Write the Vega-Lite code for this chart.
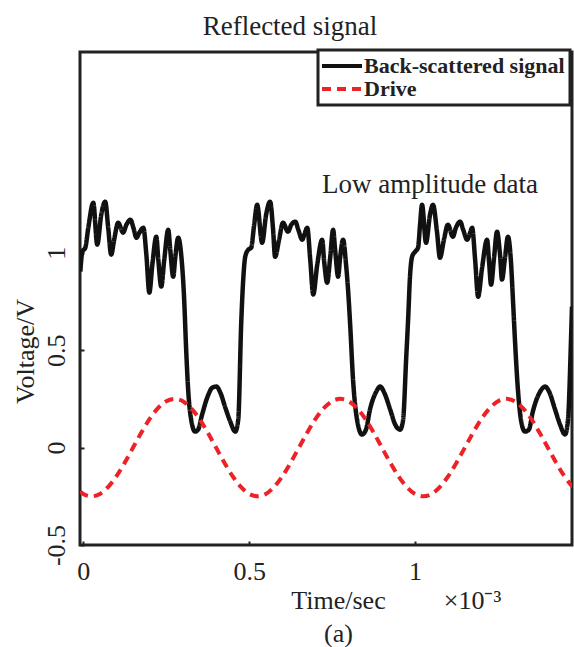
{
  "$schema": "https://vega.github.io/schema/vega-lite/v6.json",
  "autosize": "none",
  "width": 492,
  "height": 493,
  "padding": {"left": 80, "top": 52, "right": 2, "bottom": 102},
  "background": "white",
  "title": {"text": "Reflected signal", "font": "Liberation Serif", "fontSize": 27, "fontWeight": "normal", "color": "#222", "anchor": "middle", "dx": -36, "offset": 8},
  "config": {
    "view": {"stroke": "#222", "strokeWidth": 3},
    "font": "Liberation Serif",
    "axis": {"labelFont": "Liberation Serif", "titleFont": "Liberation Serif", "labelColor": "#222", "titleColor": "#222", "labelFontSize": 26, "titleFontSize": 26, "titleFontWeight": "normal", "domain": false, "grid": false, "tickColor": "#222", "tickWidth": 2}
  },
  "datasets": {
    "signal": [
      {"series": "Back-scattered signal", "t": -0.009, "v": 0.903},
      {"series": "Back-scattered signal", "t": -0.003, "v": 1.005},
      {"series": "Back-scattered signal", "t": 0.006, "v": 1.026},
      {"series": "Back-scattered signal", "t": 0.015, "v": 1.128},
      {"series": "Back-scattered signal", "t": 0.030, "v": 1.256},
      {"series": "Back-scattered signal", "t": 0.042, "v": 1.041},
      {"series": "Back-scattered signal", "t": 0.054, "v": 1.195},
      {"series": "Back-scattered signal", "t": 0.066, "v": 1.262},
      {"series": "Back-scattered signal", "t": 0.075, "v": 1.128},
      {"series": "Back-scattered signal", "t": 0.084, "v": 0.990},
      {"series": "Back-scattered signal", "t": 0.093, "v": 1.067},
      {"series": "Back-scattered signal", "t": 0.105, "v": 1.154},
      {"series": "Back-scattered signal", "t": 0.120, "v": 1.103},
      {"series": "Back-scattered signal", "t": 0.130, "v": 1.144},
      {"series": "Back-scattered signal", "t": 0.142, "v": 1.169},
      {"series": "Back-scattered signal", "t": 0.151, "v": 1.128},
      {"series": "Back-scattered signal", "t": 0.160, "v": 1.077},
      {"series": "Back-scattered signal", "t": 0.169, "v": 1.103},
      {"series": "Back-scattered signal", "t": 0.181, "v": 1.128},
      {"series": "Back-scattered signal", "t": 0.190, "v": 0.990},
      {"series": "Back-scattered signal", "t": 0.199, "v": 0.795},
      {"series": "Back-scattered signal", "t": 0.208, "v": 0.938},
      {"series": "Back-scattered signal", "t": 0.220, "v": 1.082},
      {"series": "Back-scattered signal", "t": 0.226, "v": 0.964},
      {"series": "Back-scattered signal", "t": 0.235, "v": 0.826},
      {"series": "Back-scattered signal", "t": 0.244, "v": 0.964},
      {"series": "Back-scattered signal", "t": 0.256, "v": 1.118},
      {"series": "Back-scattered signal", "t": 0.262, "v": 1.015},
      {"series": "Back-scattered signal", "t": 0.271, "v": 0.877},
      {"series": "Back-scattered signal", "t": 0.277, "v": 0.974},
      {"series": "Back-scattered signal", "t": 0.286, "v": 1.077},
      {"series": "Back-scattered signal", "t": 0.295, "v": 0.990},
      {"series": "Back-scattered signal", "t": 0.304, "v": 0.759},
      {"series": "Back-scattered signal", "t": 0.310, "v": 0.503},
      {"series": "Back-scattered signal", "t": 0.316, "v": 0.297},
      {"series": "Back-scattered signal", "t": 0.325, "v": 0.144},
      {"series": "Back-scattered signal", "t": 0.337, "v": 0.082},
      {"series": "Back-scattered signal", "t": 0.346, "v": 0.092},
      {"series": "Back-scattered signal", "t": 0.358, "v": 0.169},
      {"series": "Back-scattered signal", "t": 0.377, "v": 0.272},
      {"series": "Back-scattered signal", "t": 0.389, "v": 0.308},
      {"series": "Back-scattered signal", "t": 0.401, "v": 0.313},
      {"series": "Back-scattered signal", "t": 0.413, "v": 0.282},
      {"series": "Back-scattered signal", "t": 0.428, "v": 0.205},
      {"series": "Back-scattered signal", "t": 0.443, "v": 0.133},
      {"series": "Back-scattered signal", "t": 0.458, "v": 0.082},
      {"series": "Back-scattered signal", "t": 0.467, "v": 0.144},
      {"series": "Back-scattered signal", "t": 0.476, "v": 0.641},
      {"series": "Back-scattered signal", "t": 0.482, "v": 0.862},
      {"series": "Back-scattered signal", "t": 0.488, "v": 0.979},
      {"series": "Back-scattered signal", "t": 0.497, "v": 1.015},
      {"series": "Back-scattered signal", "t": 0.506, "v": 1.026},
      {"series": "Back-scattered signal", "t": 0.515, "v": 1.144},
      {"series": "Back-scattered signal", "t": 0.524, "v": 1.246},
      {"series": "Back-scattered signal", "t": 0.539, "v": 1.051},
      {"series": "Back-scattered signal", "t": 0.551, "v": 1.195},
      {"series": "Back-scattered signal", "t": 0.563, "v": 1.262},
      {"series": "Back-scattered signal", "t": 0.572, "v": 1.118},
      {"series": "Back-scattered signal", "t": 0.578, "v": 0.979},
      {"series": "Back-scattered signal", "t": 0.590, "v": 1.067},
      {"series": "Back-scattered signal", "t": 0.602, "v": 1.154},
      {"series": "Back-scattered signal", "t": 0.617, "v": 1.108},
      {"series": "Back-scattered signal", "t": 0.627, "v": 1.144},
      {"series": "Back-scattered signal", "t": 0.639, "v": 1.159},
      {"series": "Back-scattered signal", "t": 0.648, "v": 1.118},
      {"series": "Back-scattered signal", "t": 0.660, "v": 1.067},
      {"series": "Back-scattered signal", "t": 0.666, "v": 1.092},
      {"series": "Back-scattered signal", "t": 0.675, "v": 1.128},
      {"series": "Back-scattered signal", "t": 0.684, "v": 0.964},
      {"series": "Back-scattered signal", "t": 0.693, "v": 0.785},
      {"series": "Back-scattered signal", "t": 0.705, "v": 0.938},
      {"series": "Back-scattered signal", "t": 0.720, "v": 1.067},
      {"series": "Back-scattered signal", "t": 0.726, "v": 0.954},
      {"series": "Back-scattered signal", "t": 0.735, "v": 0.846},
      {"series": "Back-scattered signal", "t": 0.744, "v": 0.974},
      {"series": "Back-scattered signal", "t": 0.753, "v": 1.118},
      {"series": "Back-scattered signal", "t": 0.759, "v": 1.015},
      {"series": "Back-scattered signal", "t": 0.768, "v": 0.877},
      {"series": "Back-scattered signal", "t": 0.774, "v": 0.974},
      {"series": "Back-scattered signal", "t": 0.783, "v": 1.067},
      {"series": "Back-scattered signal", "t": 0.792, "v": 0.938},
      {"series": "Back-scattered signal", "t": 0.798, "v": 0.810},
      {"series": "Back-scattered signal", "t": 0.804, "v": 0.641},
      {"series": "Back-scattered signal", "t": 0.813, "v": 0.349},
      {"series": "Back-scattered signal", "t": 0.825, "v": 0.144},
      {"series": "Back-scattered signal", "t": 0.840, "v": 0.067},
      {"series": "Back-scattered signal", "t": 0.852, "v": 0.092},
      {"series": "Back-scattered signal", "t": 0.864, "v": 0.195},
      {"series": "Back-scattered signal", "t": 0.883, "v": 0.287},
      {"series": "Back-scattered signal", "t": 0.895, "v": 0.313},
      {"series": "Back-scattered signal", "t": 0.907, "v": 0.282},
      {"series": "Back-scattered signal", "t": 0.925, "v": 0.195},
      {"series": "Back-scattered signal", "t": 0.940, "v": 0.118},
      {"series": "Back-scattered signal", "t": 0.955, "v": 0.092},
      {"series": "Back-scattered signal", "t": 0.964, "v": 0.144},
      {"series": "Back-scattered signal", "t": 0.973, "v": 0.451},
      {"series": "Back-scattered signal", "t": 0.979, "v": 0.656},
      {"series": "Back-scattered signal", "t": 0.985, "v": 0.887},
      {"series": "Back-scattered signal", "t": 0.991, "v": 0.979},
      {"series": "Back-scattered signal", "t": 1.000, "v": 1.005},
      {"series": "Back-scattered signal", "t": 1.009, "v": 1.026},
      {"series": "Back-scattered signal", "t": 1.015, "v": 1.144},
      {"series": "Back-scattered signal", "t": 1.021, "v": 1.246},
      {"series": "Back-scattered signal", "t": 1.033, "v": 1.051},
      {"series": "Back-scattered signal", "t": 1.045, "v": 1.195},
      {"series": "Back-scattered signal", "t": 1.054, "v": 1.246},
      {"series": "Back-scattered signal", "t": 1.066, "v": 1.108},
      {"series": "Back-scattered signal", "t": 1.075, "v": 0.974},
      {"series": "Back-scattered signal", "t": 1.087, "v": 1.067},
      {"series": "Back-scattered signal", "t": 1.099, "v": 1.144},
      {"series": "Back-scattered signal", "t": 1.114, "v": 1.082},
      {"series": "Back-scattered signal", "t": 1.123, "v": 1.128},
      {"series": "Back-scattered signal", "t": 1.136, "v": 1.159},
      {"series": "Back-scattered signal", "t": 1.145, "v": 1.118},
      {"series": "Back-scattered signal", "t": 1.157, "v": 1.067},
      {"series": "Back-scattered signal", "t": 1.166, "v": 1.103},
      {"series": "Back-scattered signal", "t": 1.172, "v": 1.128},
      {"series": "Back-scattered signal", "t": 1.181, "v": 0.964},
      {"series": "Back-scattered signal", "t": 1.190, "v": 0.774},
      {"series": "Back-scattered signal", "t": 1.202, "v": 0.923},
      {"series": "Back-scattered signal", "t": 1.217, "v": 1.067},
      {"series": "Back-scattered signal", "t": 1.223, "v": 0.954},
      {"series": "Back-scattered signal", "t": 1.229, "v": 0.836},
      {"series": "Back-scattered signal", "t": 1.238, "v": 0.974},
      {"series": "Back-scattered signal", "t": 1.247, "v": 1.108},
      {"series": "Back-scattered signal", "t": 1.256, "v": 0.990},
      {"series": "Back-scattered signal", "t": 1.262, "v": 0.862},
      {"series": "Back-scattered signal", "t": 1.271, "v": 0.974},
      {"series": "Back-scattered signal", "t": 1.280, "v": 1.082},
      {"series": "Back-scattered signal", "t": 1.289, "v": 0.954},
      {"series": "Back-scattered signal", "t": 1.295, "v": 0.759},
      {"series": "Back-scattered signal", "t": 1.301, "v": 0.554},
      {"series": "Back-scattered signal", "t": 1.310, "v": 0.297},
      {"series": "Back-scattered signal", "t": 1.319, "v": 0.144},
      {"series": "Back-scattered signal", "t": 1.331, "v": 0.082},
      {"series": "Back-scattered signal", "t": 1.343, "v": 0.092},
      {"series": "Back-scattered signal", "t": 1.355, "v": 0.185},
      {"series": "Back-scattered signal", "t": 1.377, "v": 0.287},
      {"series": "Back-scattered signal", "t": 1.392, "v": 0.313},
      {"series": "Back-scattered signal", "t": 1.404, "v": 0.287},
      {"series": "Back-scattered signal", "t": 1.422, "v": 0.195},
      {"series": "Back-scattered signal", "t": 1.437, "v": 0.118},
      {"series": "Back-scattered signal", "t": 1.452, "v": 0.067},
      {"series": "Back-scattered signal", "t": 1.461, "v": 0.144},
      {"series": "Back-scattered signal", "t": 1.470, "v": 0.554},
      {"series": "Back-scattered signal", "t": 1.473, "v": 0.723}
    ],
    "drive": [
      {"series": "Drive", "t": -0.01, "v": -0.226},
      {"series": "Drive", "t": 0.0, "v": -0.238},
      {"series": "Drive", "t": 0.025, "v": -0.25},
      {"series": "Drive", "t": 0.05, "v": -0.238},
      {"series": "Drive", "t": 0.075, "v": -0.202},
      {"series": "Drive", "t": 0.1, "v": -0.147},
      {"series": "Drive", "t": 0.125, "v": -0.077},
      {"series": "Drive", "t": 0.15, "v": 0.0},
      {"series": "Drive", "t": 0.175, "v": 0.077},
      {"series": "Drive", "t": 0.2, "v": 0.147},
      {"series": "Drive", "t": 0.225, "v": 0.202},
      {"series": "Drive", "t": 0.25, "v": 0.238},
      {"series": "Drive", "t": 0.275, "v": 0.25},
      {"series": "Drive", "t": 0.3, "v": 0.238},
      {"series": "Drive", "t": 0.325, "v": 0.202},
      {"series": "Drive", "t": 0.35, "v": 0.147},
      {"series": "Drive", "t": 0.375, "v": 0.077},
      {"series": "Drive", "t": 0.4, "v": 0.0},
      {"series": "Drive", "t": 0.425, "v": -0.077},
      {"series": "Drive", "t": 0.45, "v": -0.147},
      {"series": "Drive", "t": 0.475, "v": -0.202},
      {"series": "Drive", "t": 0.5, "v": -0.238},
      {"series": "Drive", "t": 0.525, "v": -0.25},
      {"series": "Drive", "t": 0.55, "v": -0.238},
      {"series": "Drive", "t": 0.575, "v": -0.202},
      {"series": "Drive", "t": 0.6, "v": -0.147},
      {"series": "Drive", "t": 0.625, "v": -0.077},
      {"series": "Drive", "t": 0.65, "v": 0.0},
      {"series": "Drive", "t": 0.675, "v": 0.077},
      {"series": "Drive", "t": 0.7, "v": 0.147},
      {"series": "Drive", "t": 0.725, "v": 0.202},
      {"series": "Drive", "t": 0.75, "v": 0.238},
      {"series": "Drive", "t": 0.775, "v": 0.25},
      {"series": "Drive", "t": 0.8, "v": 0.238},
      {"series": "Drive", "t": 0.825, "v": 0.202},
      {"series": "Drive", "t": 0.85, "v": 0.147},
      {"series": "Drive", "t": 0.875, "v": 0.077},
      {"series": "Drive", "t": 0.9, "v": 0.0},
      {"series": "Drive", "t": 0.925, "v": -0.077},
      {"series": "Drive", "t": 0.95, "v": -0.147},
      {"series": "Drive", "t": 0.975, "v": -0.202},
      {"series": "Drive", "t": 1.0, "v": -0.238},
      {"series": "Drive", "t": 1.025, "v": -0.25},
      {"series": "Drive", "t": 1.05, "v": -0.238},
      {"series": "Drive", "t": 1.075, "v": -0.202},
      {"series": "Drive", "t": 1.1, "v": -0.147},
      {"series": "Drive", "t": 1.125, "v": -0.077},
      {"series": "Drive", "t": 1.15, "v": 0.0},
      {"series": "Drive", "t": 1.175, "v": 0.077},
      {"series": "Drive", "t": 1.2, "v": 0.147},
      {"series": "Drive", "t": 1.225, "v": 0.202},
      {"series": "Drive", "t": 1.25, "v": 0.238},
      {"series": "Drive", "t": 1.275, "v": 0.25},
      {"series": "Drive", "t": 1.3, "v": 0.238},
      {"series": "Drive", "t": 1.325, "v": 0.202},
      {"series": "Drive", "t": 1.35, "v": 0.147},
      {"series": "Drive", "t": 1.375, "v": 0.077},
      {"series": "Drive", "t": 1.4, "v": 0.0},
      {"series": "Drive", "t": 1.425, "v": -0.077},
      {"series": "Drive", "t": 1.45, "v": -0.147},
      {"series": "Drive", "t": 1.475, "v": -0.202}
    ],
    "notes": [
      {"label": "Low amplitude data", "t": 1.045, "v": 1.308}
    ]
  },
  "resolve": {"axis": {"x": "independent"}},
  "layer": [
    {
      "data": {"name": "signal"},
      "mark": {"type": "line", "interpolate": "monotone", "strokeWidth": 4.5, "clip": true, "strokeJoin": "round"},
      "encoding": {
        "x": {"field": "t", "type": "quantitative", "scale": {"domain": [-0.01, 1.473], "nice": false, "zero": false},
          "axis": {"orient": "bottom", "values": [0, 0.5, 1], "format": "~g", "ticks": true, "tickSize": -4, "labelPadding": 17, "title": ["Time/sec", "(a)"], "titleX": 258, "titleY": 42, "titleAlign": "center", "titleBaseline": "top", "titleLineHeight": 33}},
        "y": {"field": "v", "type": "quantitative", "scale": {"domain": [-0.5, 2.03], "nice": false, "zero": false},
          "axis": {"values": [-0.5, 0, 0.5, 1], "format": "~g", "labelExpr": "replace(datum.label, '\u2212', '-')", "labelAngle": -90, "ticks": true, "tickSize": -4, "labelPadding": 15, "title": "Voltage/V", "titleAngle": -90, "titleX": -55, "titleY": 299, "titleAlign": "center", "titleBaseline": "middle"}},
        "color": {"field": "series", "type": "nominal", "scale": {"domain": ["Back-scattered signal", "Drive"], "range": ["#111111", "#ec2227"]},
          "legend": {"orient": "none", "legendX": 238, "legendY": -2, "title": null, "fillColor": "white", "strokeColor": "#222", "padding": 5, "rowPadding": 1, "labelFont": "Liberation Serif", "labelFontSize": 22, "labelFontWeight": "bold", "labelColor": "#222", "labelLimit": 400, "symbolType": "M-1,0H9", "symbolSize": 64, "symbolStrokeWidth": 4, "symbolOffset": -8, "labelOffset": 27,
            "encode": {"legend": {"update": {"strokeWidth": {"value": 3}}}}}},
        "strokeDash": {"field": "series", "type": "nominal", "scale": {"domain": ["Back-scattered signal", "Drive"], "range": [[1, 0], [9, 6]]}, "legend": null}
      }
    },
    {
      "data": {"name": "drive"},
      "mark": {"type": "line", "interpolate": "monotone", "strokeWidth": 4, "clip": true, "strokeCap": "butt"},
      "encoding": {
        "x": {"field": "t", "type": "quantitative", "axis": {"orient": "bottom", "labels": false, "ticks": false, "title": "\u00d710\u207b\u00b3", "titleX": 392, "titleY": 42, "titleAlign": "center", "titleBaseline": "top"}},
        "y": {"field": "v", "type": "quantitative"},
        "color": {"field": "series", "type": "nominal"},
        "strokeDash": {"field": "series", "type": "nominal"}
      }
    },
    {
      "data": {"name": "notes"},
      "mark": {"type": "text", "font": "Liberation Serif", "fontSize": 27, "color": "#222", "align": "center", "baseline": "alphabetic"},
      "encoding": {
        "x": {"field": "t", "type": "quantitative", "axis": null},
        "y": {"field": "v", "type": "quantitative"},
        "text": {"field": "label"}
      }
    }
  ]
}
